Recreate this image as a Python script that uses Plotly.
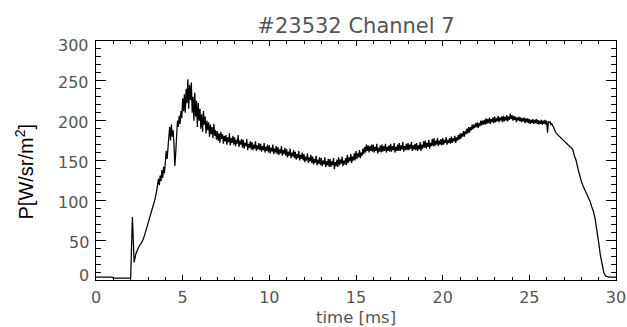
import plotly.graph_objects as go

title_text = "#23532 Channel 7"
x_label = "time [ms]"
y_label = "P[W/sr/m<sup>2</sup>]"
x_ticks = [0, 5, 10, 15, 20, 25, 30]
y_ticks = [0, 50, 100, 150, 200, 250, 300]

# sample times: 0.1 ms before 3.5 ms, 0.05 ms in the noisy part, 0.1 ms after 26.5 ms
time_start = [round(0.1 * i, 2) for i in range(35)]
time_mid = [round(3.5 + 0.05 * i, 2) for i in range(460)]
time_end = [round(26.5 + 0.1 * i, 2) for i in range(36)]

signal_start = [
    3.5, 3.5, 3.5, 3.5, 3.5, 3.5, 3.5, 3.5, 3.5, 3.5,          # 0.0-0.9
    2.5, 2.5, 2.5, 2.5, 2.5, 2.5, 2.5, 2.5, 2.5, 2.5,          # 1.0-1.9
    2.5, 79, 22, 33, 39, 43, 46, 50, 56, 63,                    # 2.0-2.9
    71, 78, 85, 92, 101,                                        # 3.0-3.4
]

signal_mid = [
    112, 121, 127, 119, 131, 124, 138, 128, 142, 134,   # 3.5
    150, 162, 152, 170, 176, 192, 175, 195, 180, 188,   # 4.0
    170, 143, 160, 185, 200, 192, 206, 196, 212, 203,   # 4.5
    228, 212, 233, 210, 240, 222, 252, 215, 245, 226,   # 5.0
    248, 210, 230, 200, 235, 205, 225, 192, 222, 200,   # 5.5
    215, 190, 208, 186, 212, 195, 205, 184, 200, 188,   # 6.0
    198, 180, 195, 183, 192, 178, 196, 181, 188, 176,   # 6.5
    187, 175, 184, 172, 186, 177, 183, 171, 181, 174,   # 7.0
    182, 170, 179, 173, 184, 169, 178, 172, 181, 170,   # 7.5
    179, 168, 176, 171, 182, 167, 175, 170, 177, 166,   # 8.0
    176, 165, 172, 168, 177, 163, 171, 166, 174, 164,   # 8.5
    173, 163, 170, 165, 174, 162, 169, 164, 172, 163,   # 9.0
    171, 161, 168, 163, 172, 160, 167, 162, 170, 160,   # 9.5
    169, 159, 166, 161, 170, 158, 165, 160, 168, 158,   # 10.0
    167, 157, 164, 159, 168, 156, 163, 158, 166, 156,   # 10.5
    164, 154, 161, 156, 165, 153, 160, 155, 163, 153,   # 11.0
    161, 151, 158, 153, 162, 150, 157, 152, 160, 150,   # 11.5
    158, 148, 155, 150, 159, 147, 154, 149, 157, 147,   # 12.0
    155, 145, 152, 147, 156, 144, 151, 146, 154, 144,   # 12.5
    153, 143, 150, 145, 154, 142, 149, 144, 152, 142,   # 13.0
    152, 142, 149, 144, 153, 139, 148, 143, 151, 142,   # 13.5
    154, 144, 151, 146, 155, 143, 150, 145, 153, 144,   # 14.0
    157, 147, 154, 149, 158, 147, 155, 150, 159, 150,   # 14.5
    162, 152, 159, 154, 163, 153, 160, 156, 165, 158,   # 15.0
    167, 160, 170, 162, 169, 160, 168, 162, 170, 161,   # 15.5
    170, 160, 167, 162, 171, 159, 166, 161, 169, 160,   # 16.0
    170, 161, 168, 162, 171, 160, 167, 162, 169, 161,   # 16.5
    171, 161, 168, 163, 172, 160, 167, 162, 170, 162,   # 17.0
    172, 162, 169, 164, 173, 161, 168, 163, 171, 163,   # 17.5
    172, 163, 170, 165, 173, 162, 169, 164, 171, 163,   # 18.0
    172, 162, 169, 164, 173, 162, 170, 165, 174, 166,   # 18.5
    175, 165, 172, 167, 176, 165, 172, 168, 177, 168,   # 19.0
    178, 168, 175, 170, 178, 168, 175, 170, 177, 169,   # 19.5
    178, 170, 176, 172, 179, 170, 176, 172, 178, 171,   # 20.0
    180, 172, 178, 174, 181, 172, 179, 175, 182, 176,   # 20.5
    184, 177, 184, 180, 187, 180, 187, 183, 190, 184,   # 21.0
    192, 185, 192, 188, 195, 189, 195, 191, 197, 192,   # 21.5
    198, 191, 197, 193, 200, 194, 200, 195, 201, 195,   # 22.0
    203, 196, 202, 197, 204, 196, 202, 198, 204, 197,   # 22.5
    205, 198, 203, 199, 206, 198, 204, 200, 205, 198,   # 23.0
    206, 199, 205, 200, 207, 199, 205, 201, 209, 202,   # 23.5
    207, 200, 206, 201, 205, 198, 204, 200, 205, 199,   # 24.0
    204, 198, 203, 199, 204, 197, 203, 198, 203, 197,   # 24.5
    202, 196, 201, 197, 202, 196, 201, 197, 202, 196,   # 25.0
    201, 195, 200, 196, 201, 195, 200, 196, 201, 195,   # 25.5
    200, 185, 199, 197, 199, 195, 196, 193, 192, 189,   # 26.0
]

signal_end = [
    186, 183, 181, 179, 177,                            # 26.5-26.9
    175, 172, 170, 169, 167, 164, 156, 150, 140, 131,   # 27.0-27.9
    124, 118, 113, 110, 104, 99, 92, 86, 76, 64,        # 28.0-28.9
    47, 31, 18, 9, 5, 4, 3.5, 3.5, 3.5, 3.5,            # 29.0-29.9
    3.5,                                                # 30.0
]

assert len(time_start) == len(signal_start)
assert len(time_mid) == len(signal_mid)
assert len(time_end) == len(signal_end)

time_ms = time_start + time_mid + time_end
signal = signal_start + signal_mid + signal_end

light_font = "DejaVu Sans ExtraLight, DejaVu Sans"
tick_font = dict(family=light_font, size=16, color="#555555")

fig = go.Figure()
fig.add_trace(go.Scatter(
    x=time_ms, y=signal, mode="lines",
    line=dict(color="black", width=1.25),
    showlegend=False,
))

# y tick labels drawn as text next to the axis (IDL keeps end labels inside the axis span)
y_label_shift = {0: 5, 300: -4}
annotations = [
    dict(text=str(v), xref="paper", yref="y", x=0, y=v, xanchor="right", yanchor="middle",
         xshift=-5, yshift=y_label_shift.get(v, -2), showarrow=False, font=tick_font)
    for v in y_ticks
]
annotations.append(dict(
    text=y_label, textangle=-90, xref="paper", yref="paper",
    x=0, y=0.5, xanchor="center", yanchor="middle", xshift=-72, yshift=-11,
    showarrow=False, font=dict(family="Liberation Sans, Arial", size=20, color="black"),
))
annotations.append(dict(
    text=x_label, xref="paper", yref="paper", x=0.5, y=0,
    xanchor="center", yanchor="middle", yshift=-37, showarrow=False,
    font=dict(family=light_font, size=16.5, color="#555555"),
))

fig.update_layout(
    width=627, height=327,
    margin=dict(l=96, r=11, t=41, b=47, autoexpand=False),
    paper_bgcolor="white", plot_bgcolor="white",
    title=dict(text=title_text, x=0.5, xref="paper", xanchor="center",
               y=1 - 26 / 327, yanchor="middle",
               font=dict(family=light_font, size=21, color="#555555")),
    xaxis=dict(
        range=[0, 30], tickvals=x_ticks, ticktext=[str(v) for v in x_ticks],
        showgrid=False, zeroline=False, showline=True, linecolor="black", linewidth=1,
        mirror="ticks", ticks="inside", ticklen=5, tickcolor="black", tickwidth=1,
        minor=dict(dtick=1, ticks="inside", ticklen=3, tickcolor="black", tickwidth=1, showgrid=False),
        tickfont=tick_font, ticklabelstandoff=3, automargin=False,
    ),
    yaxis=dict(
        range=[0, 300], tickvals=y_ticks, showticklabels=False,
        showgrid=False, zeroline=False, showline=True, linecolor="black", linewidth=1,
        mirror="ticks", ticks="inside", ticklen=10, tickcolor="black", tickwidth=1,
        minor=dict(dtick=10, ticks="inside", ticklen=5, tickcolor="black", tickwidth=1, showgrid=False),
        automargin=False,
    ),
    annotations=annotations,
)

fig.write_html("out.html")
